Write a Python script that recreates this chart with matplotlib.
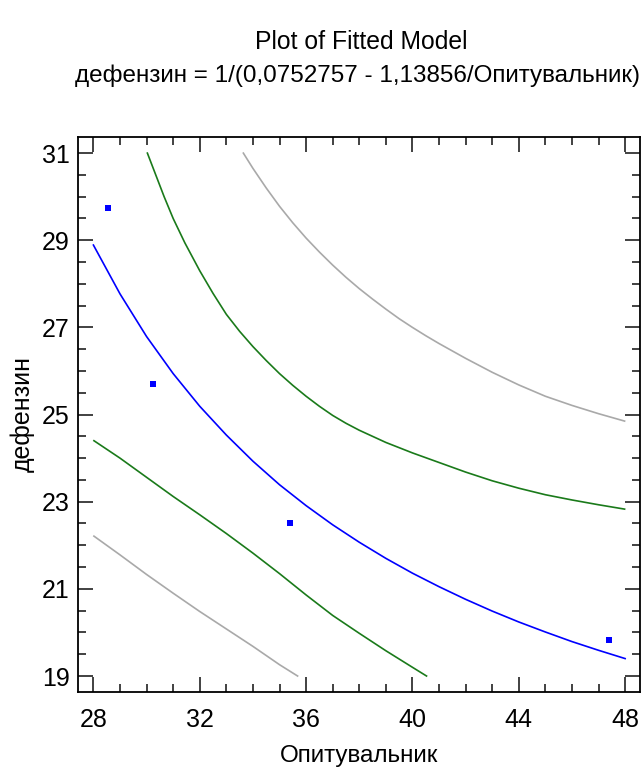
import matplotlib
matplotlib.use("Agg")
import matplotlib.pyplot as plt
from matplotlib.ticker import MultipleLocator

plt.rcParams['font.family'] = ['Liberation Sans', 'DejaVu Sans']

# observed points
obs_x = [28.55, 30.24, 35.39, 47.40]
obs_y = [29.74, 25.70, 22.51, 19.82]

# fitted line (blue)
fit_x = [28, 29, 30, 31, 32, 33, 34, 35, 36, 37, 38, 39, 40, 41, 42, 43, 44, 45, 46, 47, 48]
fit_y = [28.89, 27.77, 26.79, 25.94, 25.19, 24.53, 23.93, 23.39, 22.91, 22.47, 22.07,
         21.70, 21.36, 21.05, 20.76, 20.49, 20.24, 20.01, 19.79, 19.59, 19.40]

# inner limits (green)
gu_x = [30.03, 30.66, 31.0, 31.44, 32.0, 32.5, 33.0, 33.5, 34.0, 34.5, 35.0, 35.5, 36.0,
        36.5, 37.0, 37.5, 38.0, 39.0, 40.0, 41.0, 42.0, 43.0, 44.0, 45.0, 46.0, 47.0, 47.98]
gu_y = [31.0, 30.0, 29.50, 28.94, 28.30, 27.78, 27.30, 26.91, 26.56, 26.24, 25.94, 25.67, 25.42,
        25.19, 24.98, 24.80, 24.64, 24.36, 24.12, 23.90, 23.68, 23.48, 23.31, 23.16, 23.04,
        22.93, 22.83]
gl_x = [28.02, 29, 30, 31, 32, 33, 34, 35, 36, 37, 38, 39, 40, 40.53]
gl_y = [24.40, 24.00, 23.56, 23.12, 22.70, 22.27, 21.82, 21.35, 20.86, 20.39, 19.98,
        19.58, 19.20, 19.0]

# outer limits (gray)
ou_x = [33.64, 34.0, 34.5, 35.0, 35.5, 36.0, 36.5, 37.0, 37.5, 38.0, 38.5, 39.0, 39.5,
        40.0, 40.5, 41.0, 41.5, 42.0, 43.0, 44.0, 45.0, 46.0, 47.0, 47.98]
ou_y = [31.0, 30.65, 30.20, 29.78, 29.40, 29.05, 28.73, 28.43, 28.15, 27.89, 27.65, 27.42,
        27.20, 27.00, 26.81, 26.63, 26.46, 26.29, 25.97, 25.68, 25.42, 25.21, 25.02, 24.85]
ol_x = [28.02, 29, 30, 31, 32, 33, 34, 35, 35.68]
ol_y = [22.21, 21.78, 21.33, 20.90, 20.48, 20.08, 19.68, 19.26, 19.0]

xticks = [28, 32, 36, 40, 44, 48]
yticks = [19, 21, 23, 25, 27, 29, 31]

fig = plt.figure(figsize=(6.44, 7.70), dpi=100)
ax = fig.add_axes([0.1211, 0.1017, 0.8727, 0.7204])

ax.plot(ou_x, ou_y, color='#a9a9a9', lw=1.2)
ax.plot(ol_x, ol_y, color='#a9a9a9', lw=1.2)
ax.plot(gu_x, gu_y, color='#1a7a1a', lw=1.2)
ax.plot(gl_x, gl_y, color='#1a7a1a', lw=1.2)
ax.plot(fit_x, fit_y, color='#0000ff', lw=1.2)
ax.plot(obs_x, obs_y, 's', color='#0000ff', ms=5, mew=0)

ax.set_xlim(27.42, 48.56)
ax.set_ylim(18.64, 31.37)
ax.set_xticks(xticks)
ax.set_yticks(yticks)
ax.xaxis.set_minor_locator(MultipleLocator(1))
ax.yaxis.set_minor_locator(MultipleLocator(0.5))
ax.tick_params(which='both', direction='in', top=True, right=True,
               labeltop=False, labelright=False, width=1.3, color='#333333')
ax.tick_params(which='major', length=11, labelsize=18)
ax.tick_params(axis='x', which='major', pad=12)
ax.tick_params(axis='y', which='major', pad=6)
ax.tick_params(which='minor', length=6)
for s in ax.spines.values():
    s.set_linewidth(1.3)

ax.set_xlabel('Опитувальник', fontsize=17.5, labelpad=9)
ax.set_ylabel('дефензин', fontsize=18, labelpad=5)

fig.text(0.561, 0.945, 'Plot of Fitted Model', ha='center', va='center', fontsize=17.8)
fig.text(0.555, 0.902, 'дефензин = 1/(0,0752757 - 1,13856/Опитувальник)',
         ha='center', va='center', fontsize=17.5)

fig.savefig('out.png', dpi=100)
